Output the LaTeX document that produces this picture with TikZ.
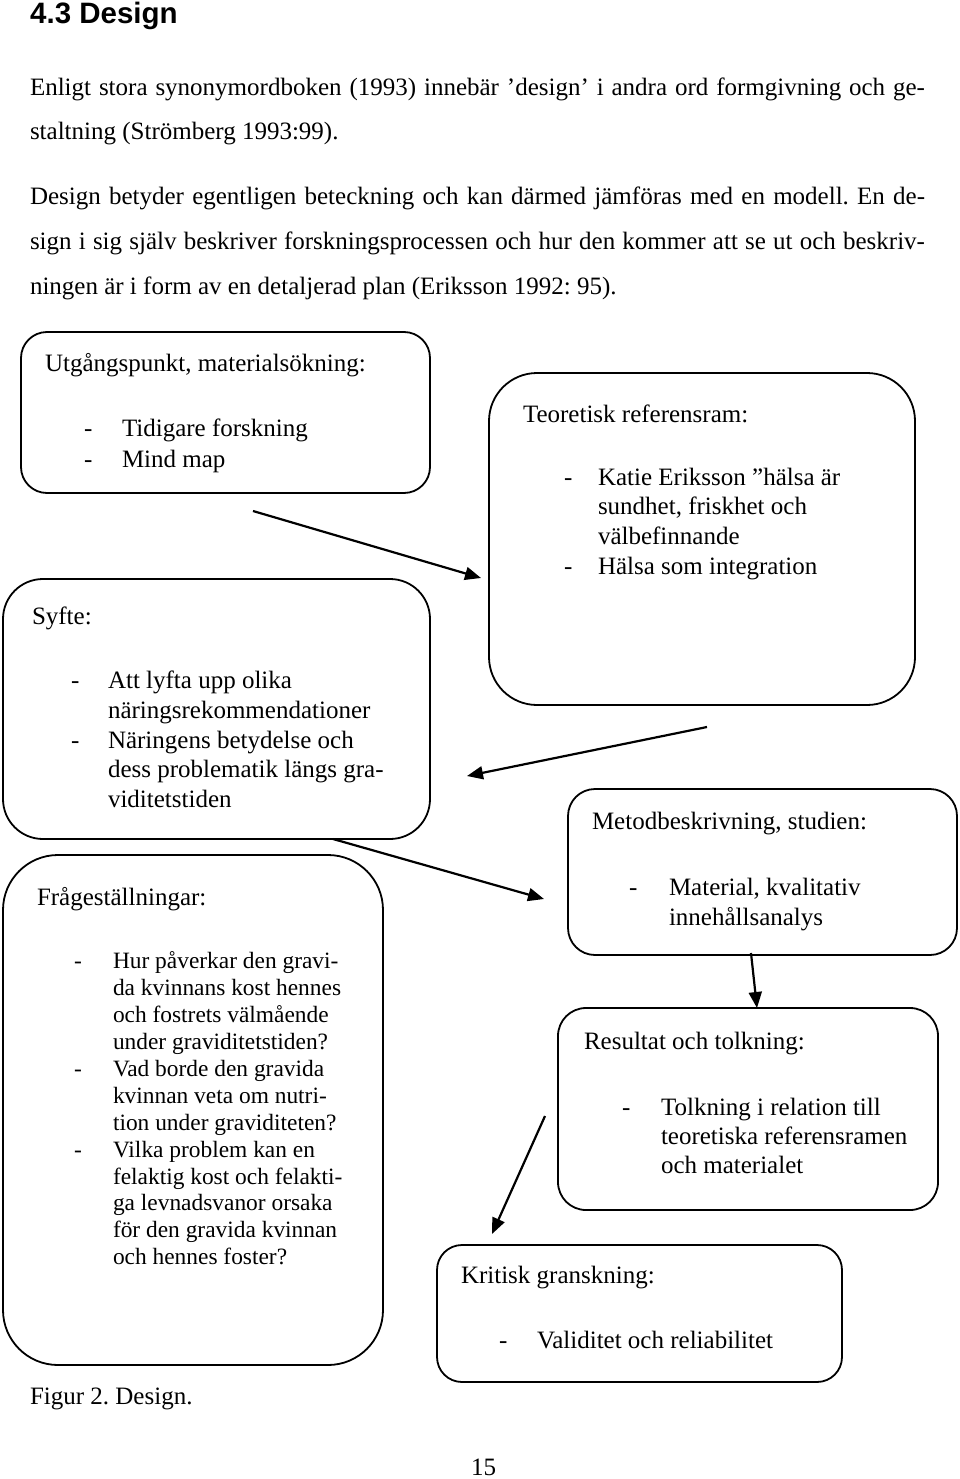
\documentclass[tikz,border=0pt]{standalone}
\usepackage{fontspec}
\setmainfont{Liberation Serif}
\newfontfamily\headfont{Liberation Sans}
\usetikzlibrary{arrows.meta}
\newcommand\tline[4]{\node[txt] (#1) at (#2,#3) {#4};}
\newcommand\sline[4]{\node[txts] (#1) at (#2,#3) {#4};}
\frenchspacing
\begin{document}
\frenchspacing
\begin{tikzpicture}[x=1pt,y=-1pt,
  txt/.style={anchor=base west, inner sep=0, outer sep=0, font=\fontsize{25}{30}\selectfont},
  txts/.style={anchor=base west, inner sep=0, outer sep=0, font=\fontsize{23.4}{27}\selectfont},
  boxs/.style={draw, line width=1.8pt, rectangle, rounded corners=#1, inner sep=0, outer sep=0, anchor=center},
  arr/.style={line width=2.2pt, -{Triangle[length=16pt,width=13pt]}}]
\useasboundingbox (0,0) rectangle (960,1479);

% heading and paragraphs
\node[anchor=base west, inner sep=0, font={\headfont\bfseries\fontsize{29.5}{34}\selectfont}] (head) at (30,24) {4.3 Design};
\tline{p1}{30}{96}{\makebox[895pt][s]{Enligt stora synonymordboken (1993) innebär ’design’ i andra ord formgivning och ge-}}
\tline{p2}{30}{140}{staltning (Strömberg 1993:99).}
\tline{p3}{30}{205}{\makebox[895pt][s]{Design betyder egentligen beteckning och kan därmed jämföras med en modell. En de-}}
\tline{p4}{30}{250}{\makebox[895pt][s]{sign i sig själv beskriver forskningsprocessen och hur den kommer att se ut och beskriv-}}
\tline{p5}{30}{294}{ningen är i form av en detaljerad plan (Eriksson 1992: 95).}

% boxes
\node[boxs=26pt, minimum width=409pt, minimum height=161pt] (b1) at (225.5,412.5) {};
\node[boxs=48pt, minimum width=426pt, minimum height=332pt] (b3) at (702,539) {};
\node[boxs=40pt, minimum width=427pt, minimum height=260pt] (b2) at (216.5,709) {};
\node[boxs=27pt, minimum width=389pt, minimum height=166pt] (b4) at (762.5,872) {};
\node[boxs=28pt, minimum width=380pt, minimum height=202pt] (b5) at (748,1109) {};
\node[boxs=25pt, minimum width=405pt, minimum height=137pt] (b6) at (639.5,1313.5) {};
\node[boxs=55pt, minimum width=380pt, minimum height=510pt] (b7) at (193,1110) {};

% box 1
\tline{b1h}{45}{371}{Utgångspunkt, materialsökning:}
\tline{b1d1}{84}{436}{-}
\tline{b1l1}{122}{436}{Tidigare forskning}
\tline{b1d2}{84}{467}{-}
\tline{b1l2}{122}{467}{Mind map}

% box 3
\tline{b3h}{523}{422}{Teoretisk referensram:}
\tline{b3d1}{564}{485}{-}
\tline{b3l1}{598}{485}{Katie Eriksson ”hälsa är}
\tline{b3l2}{598}{514}{sundhet, friskhet och}
\tline{b3l3}{598}{544}{välbefinnande}
\tline{b3d2}{564}{574}{-}
\tline{b3l4}{598}{574}{Hälsa som integration}

% box 2
\tline{b2h}{32}{624}{Syfte:}
\tline{b2d1}{71}{688}{-}
\tline{b2l1}{108}{688}{Att lyfta upp olika}
\tline{b2l2}{108}{718}{näringsrekommendationer}
\tline{b2d2}{71}{748}{-}
\tline{b2l3}{108}{748}{Näringens betydelse och}
\tline{b2l4}{108}{777}{dess problematik längs gra-}
\tline{b2l5}{108}{807}{viditetstiden}

% box 4
\tline{b4h}{592}{829}{Metodbeskrivning, studien:}
\tline{b4d1}{629}{895}{-}
\tline{b4l1}{669}{895}{Material, kvalitativ}
\tline{b4l2}{669}{925}{innehållsanalys}

% box 5
\tline{b5h}{584}{1049}{Resultat och tolkning:}
\tline{b5d1}{622}{1115}{-}
\tline{b5l1}{661}{1115}{Tolkning i relation till}
\tline{b5l2}{661}{1144}{teoretiska referensramen}
\tline{b5l3}{661}{1173}{och materialet}

% box 6
\tline{b6h}{461}{1283}{Kritisk granskning:}
\tline{b6d1}{499}{1348}{-}
\tline{b6l1}{537}{1348}{Validitet och reliabilitet}

% box 7
\tline{b7h}{37}{905}{Frågeställningar:}
\sline{b7d1}{74}{968}{-}
\sline{b7l1}{113}{968}{Hur påverkar den gravi-}
\sline{b7l2}{113}{995}{da kvinnans kost hennes}
\sline{b7l3}{113}{1022}{och fostrets välmående}
\sline{b7l4}{113}{1049}{under graviditetstiden?}
\sline{b7d2}{74}{1076}{-}
\sline{b7l5}{113}{1076}{Vad borde den gravida}
\sline{b7l6}{113}{1103}{kvinnan veta om nutri-}
\sline{b7l7}{113}{1130}{tion under graviditeten?}
\sline{b7d3}{74}{1157}{-}
\sline{b7l8}{113}{1157}{Vilka problem kan en}
\sline{b7l9}{113}{1184}{felaktig kost och felakti-}
\sline{b7l10}{113}{1210}{ga levnadsvanor orsaka}
\sline{b7l11}{113}{1237}{för den gravida kvinnan}
\sline{b7l12}{113}{1264}{och hennes foster?}

% caption and page number
\tline{cap}{30}{1404}{Figur 2. Design.}
\tline{pg}{471}{1475}{15}

% arrows
\coordinate (a1s) at (253,511);
\coordinate (a1e) at (481,578);
\coordinate (a2s) at (707,727);
\coordinate (a2e) at (467,776);
\coordinate (a3s) at (333,839);
\coordinate (a3e) at (544,899);
\coordinate (a4s) at (751,953);
\coordinate (a4e) at (757,1008);
\coordinate (a5s) at (545,1116);
\coordinate (a5e) at (492,1234);
\draw[arr] (a1s) -- (a1e);
\draw[arr] (a2s) -- (a2e);
\draw[arr] (a3s) -- (a3e);
\draw[arr] (a4s) -- (a4e);
\draw[arr] (a5s) -- (a5e);
\end{tikzpicture}
\end{document}
